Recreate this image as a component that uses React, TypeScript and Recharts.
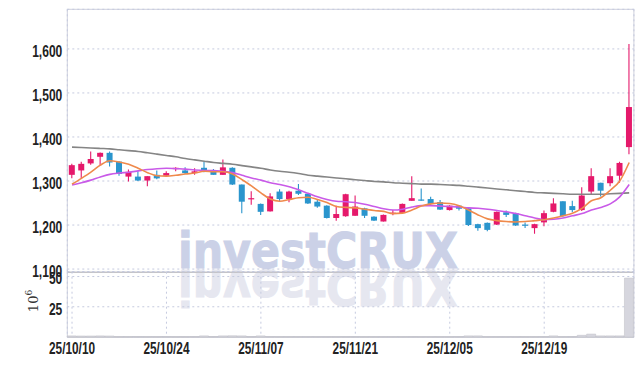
import React from 'react';
import { ComposedChart, Bar, Line, XAxis, YAxis, CartesianGrid } from 'recharts';

const dates = [
  '25/10/10', '25/10/13', '25/10/14', '25/10/15', '25/10/16', '25/10/17',
  '25/10/20', '25/10/21', '25/10/22', '25/10/23', '25/10/24',
  '25/10/27', '25/10/28', '25/10/29', '25/10/30', '25/10/31',
  '25/11/03', '25/11/04', '25/11/05', '25/11/06', '25/11/07',
  '25/11/10', '25/11/11', '25/11/12', '25/11/13', '25/11/14',
  '25/11/17', '25/11/18', '25/11/19', '25/11/20', '25/11/21',
  '25/11/24', '25/11/25', '25/11/26', '25/11/27', '25/11/28',
  '25/12/01', '25/12/02', '25/12/03', '25/12/04', '25/12/05',
  '25/12/08', '25/12/09', '25/12/10', '25/12/11', '25/12/12',
  '25/12/15', '25/12/16', '25/12/17', '25/12/18', '25/12/19',
  '25/12/22', '25/12/23', '25/12/24', '25/12/26', '25/12/29', '25/12/30',
  '26/01/02', '26/01/05', '26/01/06',
];

const opens = [
  1314, 1324, 1340, 1355, 1364, 1344, 1310, 1310, 1301, 1314,
  1312, 1327, 1324, 1318, 1330, 1324, 1314, 1330, 1292, 1259,
  1248, 1231, 1276, 1259, 1278, 1271, 1253, 1244, 1216, 1220,
  1221, 1238, 1219, 1208, 1226, 1227, 1255, 1258, 1259, 1252,
  1234, 1244, 1238, 1202, 1205, 1201, 1229, 1227, 1201, 1193,
  1206, 1230, 1254, 1243, 1234, 1276, 1296, 1295, 1312, 1377,
];
const highs = [
  1339, 1344, 1367, 1365, 1367, 1345, 1326, 1322, 1311, 1324,
  1322, 1331, 1331, 1329, 1345, 1327, 1349, 1331, 1292, 1277,
  1249, 1272, 1281, 1278, 1293, 1271, 1257, 1245, 1244, 1271,
  1267, 1239, 1220, 1224, 1234, 1249, 1311, 1283, 1264, 1257,
  1245, 1245, 1239, 1203, 1206, 1231, 1233, 1228, 1206, 1203,
  1233, 1261, 1254, 1255, 1286, 1329, 1296, 1329, 1344, 1611,
];
const lows = [
  1306, 1306, 1337, 1335, 1333, 1312, 1299, 1300, 1288, 1304,
  1310, 1322, 1316, 1314, 1320, 1314, 1314, 1291, 1227, 1246,
  1223, 1231, 1253, 1252, 1268, 1248, 1239, 1215, 1210, 1219,
  1221, 1216, 1209, 1208, 1222, 1225, 1255, 1255, 1246, 1234,
  1233, 1233, 1198, 1187, 1186, 1200, 1218, 1198, 1193, 1180,
  1197, 1229, 1219, 1229, 1232, 1270, 1265, 1288, 1296, 1361,
];
const closes = [
  1336, 1339, 1350, 1364, 1342, 1316, 1321, 1301, 1311, 1306,
  1318, 1330, 1318, 1322, 1322, 1314, 1331, 1292, 1253, 1261,
  1230, 1265, 1259, 1276, 1271, 1249, 1242, 1216, 1225, 1270,
  1242, 1221, 1210, 1223, 1228, 1248, 1261, 1257, 1248, 1235,
  1244, 1237, 1200, 1193, 1189, 1230, 1223, 1199, 1200, 1202,
  1227, 1249, 1220, 1234, 1267, 1311, 1278, 1311, 1341, 1468,
];

const ma5 = [
  1293, 1306, 1320, 1336, 1346, 1343, 1338, 1329, 1319, 1312,
  1311, 1313, 1316, 1318, 1322, 1321, 1321, 1316, 1303, 1289,
  1273, 1259, 1254, 1258, 1262, 1263, 1258, 1251, 1242, 1240,
  1239, 1236, 1233, 1231, 1226, 1227, 1234, 1243, 1248, 1250,
  1249, 1244, 1234, 1223, 1214, 1210, 1208, 1207, 1208, 1210,
  1212, 1216, 1221, 1227, 1238, 1255, 1262, 1279, 1300, 1342,
];
const ma20 = [
  1291, 1296, 1302, 1309, 1315, 1318, 1320, 1323, 1326, 1328,
  1329, 1328, 1327, 1325, 1324, 1324, 1322, 1319, 1313, 1307,
  1302, 1296, 1292, 1287, 1280, 1272, 1264, 1258, 1254, 1253,
  1251, 1247, 1242, 1237, 1234, 1236, 1241, 1244, 1244, 1243,
  1242, 1241, 1239, 1238, 1236, 1233, 1230, 1226, 1221, 1216,
  1212, 1213, 1216, 1221, 1226, 1234, 1240, 1248, 1264, 1292,
];
const ma60 = [
  1377, 1376, 1375, 1374, 1373, 1371, 1369, 1367, 1364, 1361,
  1358, 1355, 1351, 1348, 1345, 1342, 1340, 1338, 1335, 1332,
  1329, 1325, 1322, 1320, 1317, 1313, 1311, 1309, 1307, 1305,
  1303, 1301, 1299, 1298, 1296, 1295, 1294, 1293, 1293, 1292,
  1291, 1290, 1288, 1286, 1284, 1282, 1280, 1278, 1276, 1274,
  1273, 1272, 1271, 1270, 1270, 1270, 1270, 1271, 1272, 1273,
];

const volumes = [
  0.9, 0.8, 0.8, 0.9, 0.8, 0.2, 0.2, 0.3, 0.2, 0.2,
  0.3, 0.2, 0.2, 0.3, 0.9, 0.3, 0.9, 1.0, 0.9, 0.3,
  0.9, 0.3, 0.2, 0.2, 0.2, 0.2, 0.2, 0.2, 0.2, 0.3,
  0.3, 0.2, 0.2, 0.2, 0.2, 0.2, 0.3, 0.2, 0.2, 0.2,
  0.2, 0.3, 0.9, 0.9, 0.2, 0.2, 0.2, 0.2, 0.2, 0.2,
  0.3, 0.9, 0.2, 0.3, 1.4, 2.4, 0.9, 0.9, 0.9, 48.7,
];

const priceTicks = [1100, 1200, 1300, 1400, 1500, 1600];
const volumeTicks = [25, 50];
const dateTicks = ['25/10/10', '25/10/24', '25/11/07', '25/11/21', '25/12/05', '25/12/19'];

const data = dates.map((d, i) => ({
  date: d,
  range: [lows[i], highs[i]],
  open: opens[i],
  high: highs[i],
  low: lows[i],
  close: closes[i],
  ma5: ma5[i],
  ma20: ma20[i],
  ma60: ma60[i],
  volume: volumes[i],
}));

const UP = '#e5196b';
const DOWN = '#2a95cd';
const GRID = '#c5cadf';
const TICK_FONT = "'Liberation Sans', Arial, sans-serif";
const MARK_FONT = "'DejaVu Sans', 'Liberation Sans', sans-serif";

const W = 642;
const H = 366;
const LEFT = 67.3;
const RIGHT = 8.1;
const TOP = 9.3;
const SPLIT = 271.7;
const BOTTOM = 337;

const Candle = (props: any) => {
  const { x, y, width, height, payload } = props;
  if (!payload) return null;
  const { open, close, high, low } = payload;
  const up = close >= open;
  const color = up ? UP : DOWN;
  const top = Math.min(y, y + height);
  const h = Math.abs(height);
  const cx = x + width / 2;
  const ratio = h / (high - low);
  const bodyTop = top + (high - Math.max(open, close)) * ratio;
  const bodyH = Math.max(1.2, Math.abs(open - close) * ratio);
  return (
    <g>
      <line x1={cx} x2={cx} y1={top} y2={top + h} stroke={color} strokeWidth={1.1} />
      <rect x={cx - 3} y={bodyTop} width={6} height={bodyH} fill={color} />
    </g>
  );
};

const PriceTick = (props: any) => {
  const { x, y, payload } = props;
  const label = Number(payload.value).toLocaleString('en-US');
  return (
    <g transform={`translate(${x},${y + 2}) scale(0.73,1)`}>
      <text textAnchor="end" dy="0.355em" fontFamily={TICK_FONT} fontWeight={700} fontSize={16.5} fill="#222">
        {label}
      </text>
    </g>
  );
};

const VolTick = (props: any) => {
  const { x, y, payload } = props;
  return (
    <g transform={`translate(${x},${y + 2}) scale(0.73,1)`}>
      <text textAnchor="end" dy="0.355em" fontFamily={TICK_FONT} fontWeight={700} fontSize={16.5} fill="#222">
        {String(payload.value)}
      </text>
    </g>
  );
};

const DateTick = (props: any) => {
  const { x, y, payload } = props;
  return (
    <g transform={`translate(${x},${y}) scale(0.74,1)`}>
      <text textAnchor="middle" dy="0.71em" fontFamily={TICK_FONT} fontWeight={700} fontSize={16} fill="#222">
        {payload.value}
      </text>
    </g>
  );
};

export default function App() {
  return (
    <div style={{ position: 'absolute', left: 0, top: 0, width: W, height: H, background: '#fff', overflow: 'hidden' }}>
      <svg width={W} height={H} style={{ position: 'absolute', left: 0, top: 0 }}>
        <text
          x={178}
          y={268}
          fontFamily={MARK_FONT}
          fontWeight={700}
          fontSize={50}
          fill="#cbd1e7"
          stroke="#cbd1e7"
          strokeWidth={1}
          textLength={280}
          lengthAdjust="spacingAndGlyphs"
        >
          investCRUX
        </text>
        <g transform="translate(0,538) scale(1,-1)">
          <text
            x={178}
            y={268}
            fontFamily={MARK_FONT}
            fontWeight={700}
            fontSize={50}
            fill="#e6e7f0"
            stroke="#e6e7f0"
            strokeWidth={1}
            textLength={280}
            lengthAdjust="spacingAndGlyphs"
          >
            investCRUX
          </text>
        </g>
        <rect x={LEFT} y={TOP} width={W - LEFT - RIGHT} height={BOTTOM - TOP} fill="none" stroke="#cfd0dd" strokeWidth={1} />
        <line x1={LEFT} x2={W - RIGHT} y1={SPLIT + 0.5} y2={SPLIT + 0.5} stroke="#c4c4c8" strokeWidth={1.5} />
        <line x1={LEFT} x2={W - RIGHT} y1={BOTTOM} y2={BOTTOM} stroke="#c8c8cc" strokeWidth={1.5} />
        <text
          transform="translate(38,301) rotate(-90)"
          textAnchor="middle"
          fontFamily="'DejaVu Serif', serif"
          fontSize={13}
          fill="#333"
        >
          10<tspan dy={-6} fontSize={9}>6</tspan>
        </text>
      </svg>

      <div style={{ position: 'absolute', left: 0, top: 0 }}>
        <ComposedChart
          width={W}
          height={H}
          data={data}
          margin={{ top: TOP, right: RIGHT, bottom: 0, left: 0 }}
          barCategoryGap={0}
        >
          <CartesianGrid stroke={GRID} strokeDasharray="2 3" />
          <XAxis
            dataKey="date"
            ticks={dateTicks}
            interval={0}
            tick={false}
            tickLine={false}
            axisLine={false}
            height={H - SPLIT}
          />
          <YAxis
            domain={[1094, 1690]}
            ticks={priceTicks}
            width={LEFT}
            tickSize={0}
            tickMargin={5}
            tickLine={false}
            axisLine={false}
            tick={<PriceTick />}
            allowDataOverflow
          />
          <Bar dataKey="range" shape={<Candle />} isAnimationActive={false} />
          <Line type="monotone" dataKey="ma60" stroke="#858585" strokeWidth={1.6} dot={false} isAnimationActive={false} />
          <Line type="monotone" dataKey="ma20" stroke="#c95ae8" strokeWidth={1.6} dot={false} isAnimationActive={false} />
          <Line type="monotone" dataKey="ma5" stroke="#ef8a4c" strokeWidth={1.6} dot={false} isAnimationActive={false} />
        </ComposedChart>
      </div>

      <div style={{ position: 'absolute', left: 0, top: 0 }}>
        <ComposedChart
          width={W}
          height={H}
          data={data}
          margin={{ top: SPLIT, right: RIGHT, bottom: 0, left: 0 }}
          barCategoryGap={0}
        >
          <CartesianGrid stroke={GRID} strokeDasharray="2 3" />
          <XAxis
            dataKey="date"
            ticks={dateTicks}
            interval={0}
            tickLine={false}
            axisLine={false}
            tickSize={0}
            tickMargin={6}
            height={H - BOTTOM}
            tick={<DateTick />}
          />
          <YAxis
            domain={[0, 54]}
            ticks={volumeTicks}
            width={LEFT}
            tickSize={0}
            tickMargin={5}
            tickLine={false}
            axisLine={false}
            tick={<VolTick />}
          />
          <Bar dataKey="volume" fill="#d6d6de" stroke="#c2c2cb" strokeWidth={0.6} isAnimationActive={false} />
        </ComposedChart>
      </div>
    </div>
  );
}
